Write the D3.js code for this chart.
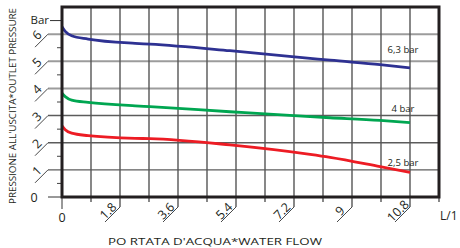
<!DOCTYPE html>
<html>
<head>
<meta charset="utf-8">
<script src="https://cdn.jsdelivr.net/npm/d3@7"></script>
<style>
  body { margin: 0; background: #fff; }
  svg { display: block; font-family: "Open Sans", sans-serif; }
</style>
</head>
<body>
<div id="chart"></div>
<script type="text/javascript">
// values (flow L/1', pressure bar)
var flow      = [0, 0.1, 0.3, 0.81, 2.27, 2.73, 5.21, 7.7, 8.32, 9.87, 10.8];
var blueVals  = [6.27, 6.1, 5.94, 5.82, 5.66, 5.63, 5.39, 5.11, 5.04, 4.88, 4.76];
var greenVals = [3.82, 3.7, 3.57, 3.49, 3.36, 3.33, 3.14, 2.96, 2.92, 2.82, 2.74];
var redVals   = [2.62, 2.48, 2.35, 2.26, 2.16, 2.15, 1.92, 1.57, 1.46, 1.12, 0.91];
var seriesNames = ["6,3 bar", "4 bar", "2,5 bar"];
var xMajor = [1.8, 3.6, 5.4, 7.2, 9, 10.8];
var xMinor = [0.9, 2.7, 4.5, 6.3, 8.1, 9.9, 11.7];
var yMajor = [1, 2, 3, 4, 5, 6];
var yMinor = [0.5, 1.5, 2.5, 3.5, 4.5, 5.5];

var x = d3.scaleLinear().domain([0, 11.7]).range([62, 439]),
    y = d3.scaleLinear().domain([0, 7]).range([197, 7]);

var svg = d3.select("#chart").append("svg")
    .attr("width", 460)
    .attr("height", 248);

var fmt = function(v) { return String(v); };

// grid
var grid = svg.append("g").attr("class", "grid");

grid.selectAll("line.hgrid")
    .data(yMajor)
  .enter().append("line")
    .attr("class", "hgrid")
    .attr("x1", 48)
    .attr("x2", 439)
    .attr("y1", function(d) { return y(d); })
    .attr("y2", function(d) { return y(d); })
    .attr("stroke", function(d) { return d >= 4 ? "#9c9c9c" : "#5c5c5c"; })
    .attr("stroke-width", function(d) { return d >= 4 ? 2 : 1.4; });

grid.selectAll("line.vgrid")
    .data(xMinor.concat(xMajor))
  .enter().append("line")
    .attr("class", "vgrid")
    .attr("x1", function(d) { return x(d); })
    .attr("x2", function(d) { return x(d); })
    .attr("y1", 7)
    .attr("y2", function(d) { return xMajor.indexOf(d) >= 0 ? 207 : 202; })
    .attr("stroke", "#555")
    .attr("stroke-width", 1.4);

// x diagonal ticks + labels
svg.selectAll("line.xdiag")
    .data(xMajor)
  .enter().append("line")
    .attr("class", "xdiag")
    .attr("x1", function(d) { return x(d); })
    .attr("y1", 207)
    .attr("x2", function(d) { return x(d) - 15; })
    .attr("y2", 222)
    .attr("stroke", "#333")
    .attr("stroke-width", 0.9);

svg.selectAll("text.xlab")
    .data(xMajor)
  .enter().append("text")
    .attr("class", "xlab")
    .attr("transform", function(d) {
      return "translate(" + (x(d) - 12) + ",211) rotate(-45)";
    })
    .attr("text-anchor", "middle")
    .attr("dy", "0.35em")
    .style("font-size", "12.5px")
    .style("fill", "#231f20")
    .text(fmt);

// x = 0
svg.append("line")
    .attr("x1", x(0)).attr("x2", x(0))
    .attr("y1", 197).attr("y2", 209)
    .attr("stroke", "#333").attr("stroke-width", 1);
svg.append("text")
    .attr("x", x(0)).attr("y", 222)
    .attr("text-anchor", "middle")
    .style("font-size", "12.5px").style("fill", "#231f20")
    .text("0");

// y ticks
svg.selectAll("line.ydiag")
    .data(yMajor)
  .enter().append("line")
    .attr("class", "ydiag")
    .attr("x1", 48)
    .attr("y1", function(d) { return y(d); })
    .attr("x2", 35)
    .attr("y2", function(d) { return y(d) + 13; })
    .attr("stroke", "#333")
    .attr("stroke-width", 0.9);

svg.selectAll("text.ylab")
    .data(yMajor)
  .enter().append("text")
    .attr("class", "ylab")
    .attr("transform", function(d) {
      return "translate(37," + (y(d) + 1) + ") rotate(-45)";
    })
    .attr("text-anchor", "middle")
    .attr("dy", "0.35em")
    .style("font-size", "12.5px")
    .style("fill", "#231f20")
    .text(fmt);

svg.selectAll("line.yminor")
    .data(yMinor)
  .enter().append("line")
    .attr("class", "yminor")
    .attr("x1", 57).attr("x2", 62)
    .attr("y1", function(d) { return y(d); })
    .attr("y2", function(d) { return y(d); })
    .attr("stroke", "#444").attr("stroke-width", 1);

// 0 and Bar
svg.append("line")
    .attr("x1", 48).attr("x2", 62)
    .attr("y1", y(0)).attr("y2", y(0))
    .attr("stroke", "#333").attr("stroke-width", 1);
svg.append("text")
    .attr("x", 34).attr("y", y(0) + 5)
    .attr("text-anchor", "middle")
    .style("font-size", "12.5px").style("fill", "#231f20")
    .text("0");
svg.append("line")
    .attr("x1", 50).attr("x2", 62)
    .attr("y1", y(6.5)).attr("y2", y(6.5))
    .attr("stroke", "#333").attr("stroke-width", 1);
svg.append("text")
    .attr("x", 49).attr("y", y(6.5) + 3)
    .attr("text-anchor", "end")
    .style("font-size", "11.5px").style("fill", "#231f20")
    .text("Bar");

// curves
var line = d3.line()
    .x(function(d, i) { return x(flow[i]); })
    .y(function(d) { return y(d); })
    .curve(d3.curveMonotoneX);

var series = [
  { vals: blueVals,  color: "#2e3192" },
  { vals: greenVals, color: "#00a651" },
  { vals: redVals,   color: "#ed1c24" }
];

svg.selectAll("path.curve")
    .data(series)
  .enter().append("path")
    .attr("class", "curve")
    .attr("d", function(d) { return line(d.vals); })
    .attr("fill", "none")
    .attr("stroke", function(d) { return d.color; })
    .attr("stroke-width", 2.8);

// series labels (baseline positions, in bar)
var labY = [5.3, 3.13, 1.14];
svg.selectAll("text.slab")
    .data(seriesNames)
  .enter().append("text")
    .attr("class", "slab")
    .attr("x", x(10.8) - 7)
    .attr("y", function(d, i) { return y(labY[i]); })
    .attr("text-anchor", "middle")
    .style("font-size", "9.5px")
    .style("fill", "#231f20")
    .text(function(d) { return d; });

// frame
svg.append("rect")
    .attr("x", x(0)).attr("y", y(7))
    .attr("width", x(11.7) - x(0))
    .attr("height", y(0) - y(7))
    .attr("fill", "none")
    .attr("stroke", "#231f20")
    .attr("stroke-width", 3);

// axis titles
svg.append("text")
    .attr("transform", "translate(16,106) rotate(-90)")
    .attr("text-anchor", "middle")
    .attr("textLength", 196)
    .attr("lengthAdjust", "spacingAndGlyphs")
    .style("font-size", "9.5px")
    .style("fill", "#231f20")
    .text("PRESSIONE ALL'USCITA*OUTLET PRESSURE");

svg.append("text")
    .attr("x", 215).attr("y", 245)
    .attr("text-anchor", "middle")
    .attr("textLength", 214)
    .attr("lengthAdjust", "spacingAndGlyphs")
    .style("font-size", "9.5px")
    .style("fill", "#231f20")
    .text("PO RTATA D'ACQUA*WATER FLOW");

svg.append("text")
    .attr("x", 440).attr("y", 220)
    .style("font-size", "12px")
    .style("fill", "#231f20")
    .text("L/1");
</script>
</body>
</html>
